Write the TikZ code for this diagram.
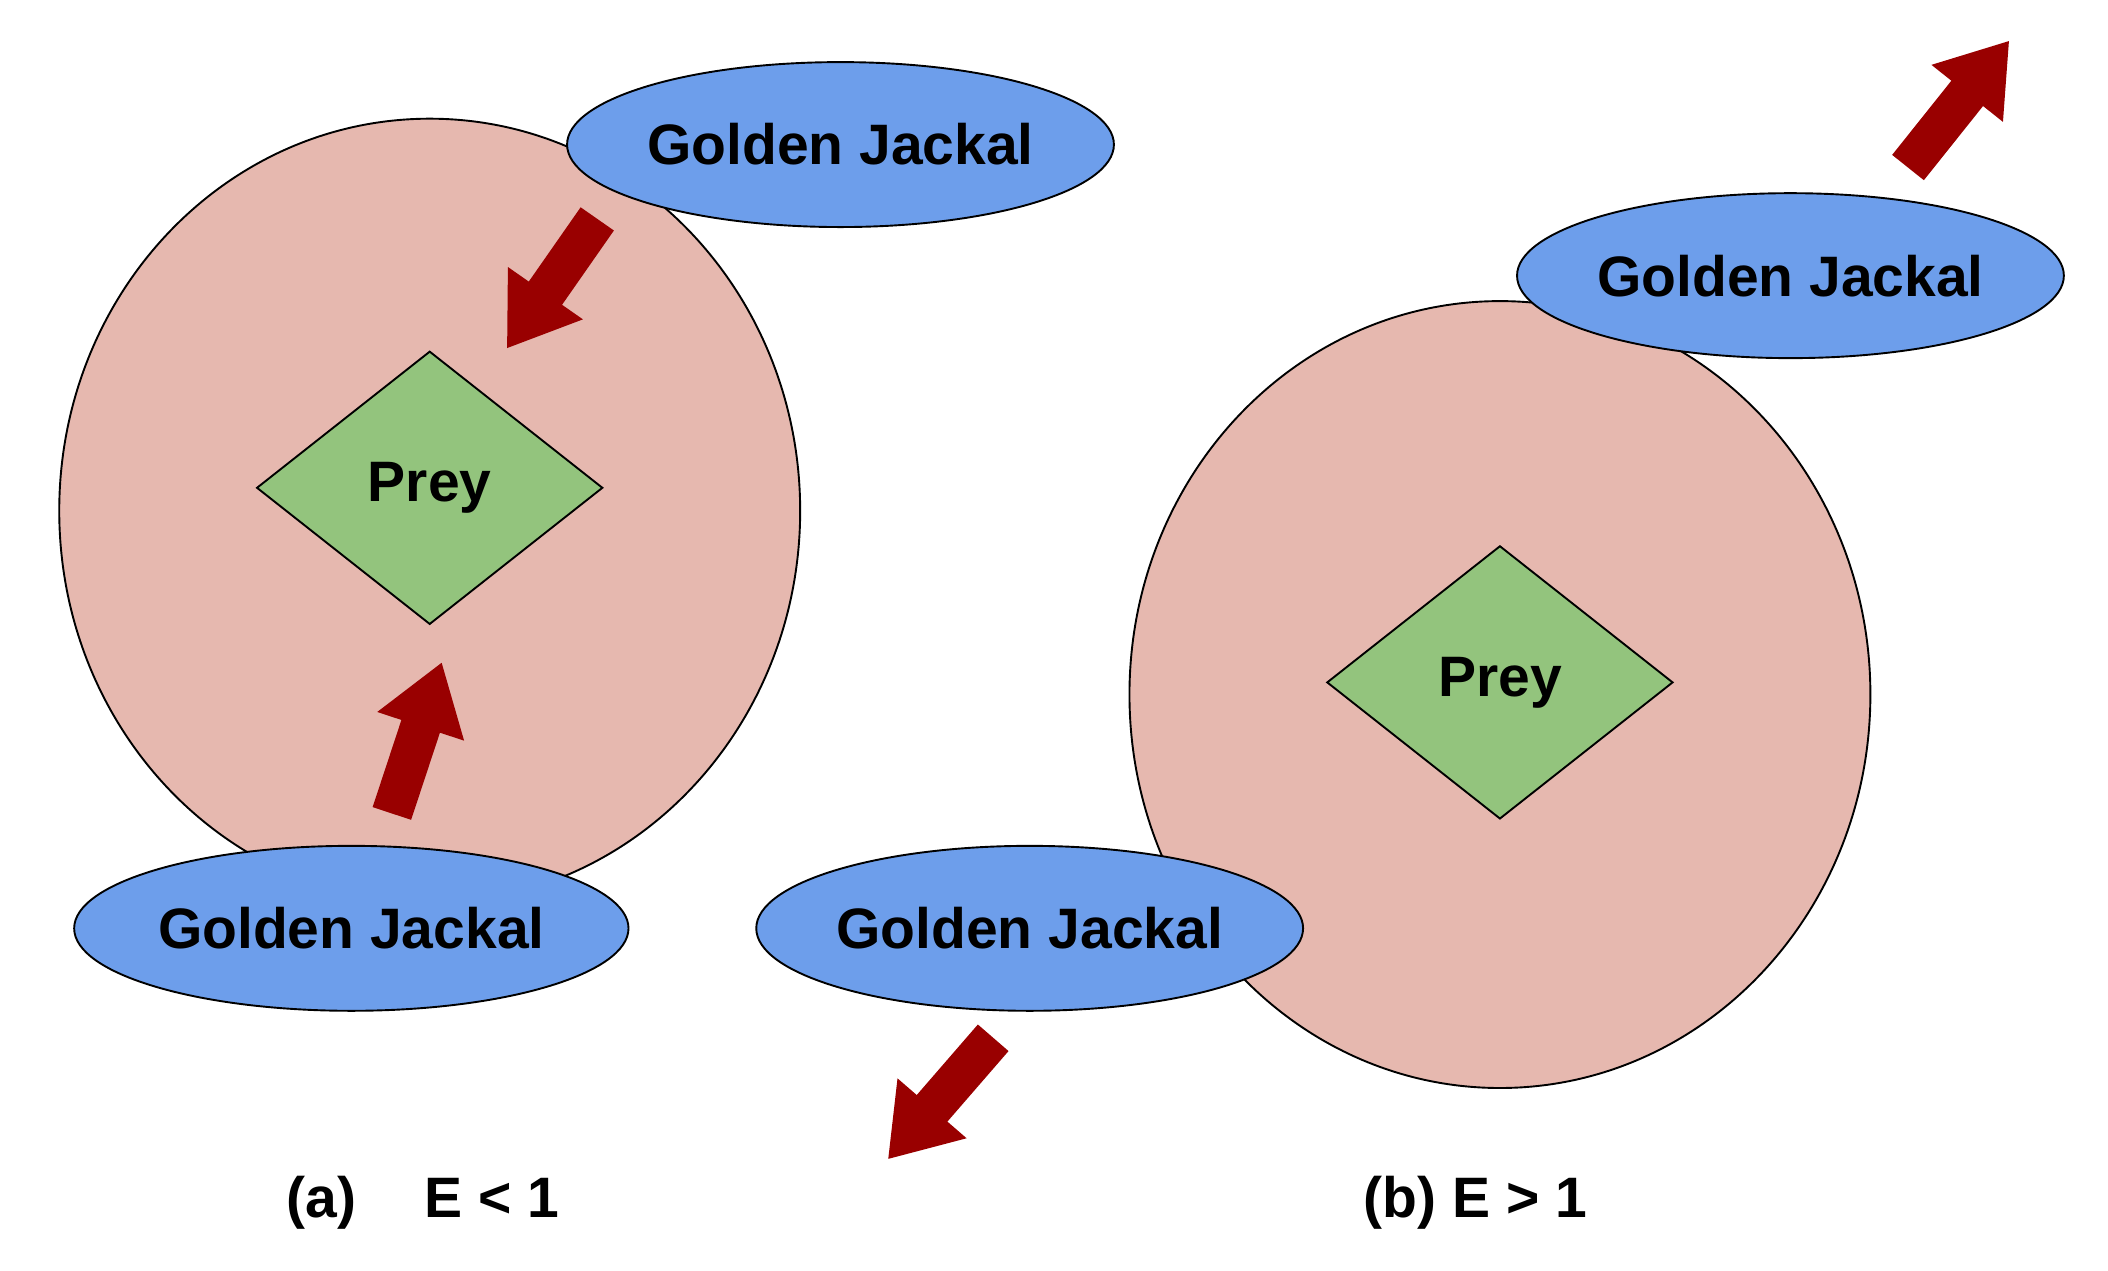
\documentclass[tikz,border=0pt]{standalone}
\usepackage{fontspec}
\setmainfont{Liberation Sans}
\usetikzlibrary{shapes.geometric,arrows.meta}
\definecolor{zone}{HTML}{E6B8AF}
\definecolor{jack}{HTML}{6D9EEB}
\definecolor{prey}{HTML}{93C47D}
\definecolor{arr}{HTML}{990000}
\tikzset{
 zonebox/.style={ellipse,draw=black,fill=zone,line width=0.4pt,inner sep=0pt,minimum width=5.48cm,minimum height=5.8cm},
 jackbox/.style={ellipse,draw=black,fill=jack,line width=0.4pt,inner sep=0pt,minimum width=4cm,minimum height=1.22cm,font=\fontsize{12}{14}\selectfont\bfseries},
 preybox/.style={diamond,draw=black,fill=prey,line width=0.4pt,inner sep=0pt,minimum width=2.56cm,minimum height=2.02cm,font=\fontsize{12}{14}\selectfont\bfseries},
 bigarrow/.style={draw=arr,line width=0.3cm,-{Triangle[length=0.5cm,width=0.64cm]}},
 caption/.style={font=\fontsize{12}{14}\selectfont\bfseries}
}
\begin{document}
\begin{tikzpicture}[x=0.01cm,y=-0.01cm]
\useasboundingbox (0,0) rectangle (1560,940);
\node[zonebox] (za) at (318,378) {};
\node[preybox] (pa) at (318,361) {Prey};
\node[jackbox] (ja1) at (622,107) {Golden Jackal};
\node[jackbox,minimum width=4.1cm] (ja2) at (260,687) {Golden Jackal};
\coordinate (a1s) at (442,162); \coordinate (a1e) at (375,258);
\coordinate (a2s) at (290,602); \coordinate (a2e) at (327,490);
\draw[bigarrow] (a1s) -- (a1e);
\draw[bigarrow] (a2s) -- (a2e);
\node[zonebox,minimum height=5.82cm] (zb) at (1110,514) {};
\node[preybox] (pb) at (1110,505) {Prey};
\node[jackbox] (jb1) at (1325,204) {Golden Jackal};
\node[jackbox] (jb2) at (762,687) {Golden Jackal};
\coordinate (b1s) at (1412,124); \coordinate (b1e) at (1487,30);
\coordinate (b2s) at (735,768); \coordinate (b2e) at (657,858);
\draw[bigarrow] (b1s) -- (b1e);
\draw[bigarrow] (b2s) -- (b2e);
\node[caption] (ca) at (313,890) {(a)\hspace{1.2em}E < 1};
\node[caption] (cb) at (1092,890) {(b) E > 1};
\end{tikzpicture}
\end{document}
